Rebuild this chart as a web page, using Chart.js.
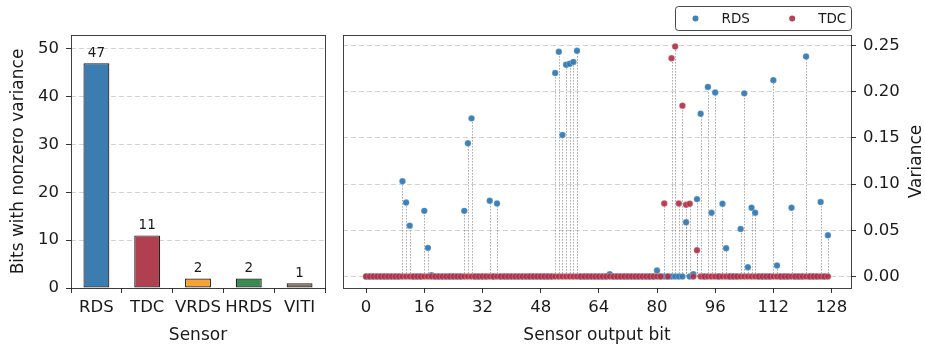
<!DOCTYPE html>
<html><head><meta charset="utf-8">
<script src="https://cdn.jsdelivr.net/npm/chart.js@4/dist/chart.umd.min.js"></script>
<style>
html,body{margin:0;padding:0;background:#fff;}
#wrap{position:relative;width:925px;height:346px;overflow:hidden;}
#c1{position:absolute;left:0;top:0;}
#c2{position:absolute;left:335px;top:0;}
</style></head><body>
<div id="wrap"><canvas id="c1" width="335" height="346"></canvas><canvas id="c2" width="590" height="346"></canvas></div>
<script>
// ---- data ----
const sensors = ['RDS', 'TDC', 'VRDS', 'HRDS', 'VITI'];
const nonzeroCounts = [47, 11, 2, 2, 1];
const sensorColors = ['#3b7db1', '#b0404f', '#f6a234', '#3b8a50', '#8a7263'];
const countTicks = [0, 10, 20, 30, 40, 50];

const nBits = 128;
const bitTicks = [0, 16, 32, 48, 64, 80, 96, 112, 128];
const varianceTicks = [0, 0.05, 0.10, 0.15, 0.20, 0.25];

const rdsBits = [10, 11, 12, 16, 17, 18, 27, 28, 29, 34, 36, 52, 53, 54, 55, 56, 57, 58, 67, 80,
                 88, 90, 91, 92, 94, 95, 96, 98, 99, 103, 104, 105, 106, 107, 112, 113, 117, 121, 125, 127];
const rdsVariance = [0.103, 0.080, 0.055, 0.071, 0.031, 0.0015, 0.071, 0.144, 0.171, 0.082, 0.079,
                     0.220, 0.243, 0.153, 0.229, 0.230, 0.232, 0.244, 0.0025, 0.0065,
                     0.0586, 0.0026, 0.0837, 0.176, 0.205, 0.069, 0.199, 0.0787, 0.0306,
                     0.0514, 0.198, 0.0101, 0.0744, 0.069, 0.2123, 0.0119, 0.0744, 0.2378, 0.0805, 0.0446];
const tdcBits = [82, 84, 85, 86, 87, 88, 89, 91];
const tdcVariance = [0.079, 0.236, 0.2486, 0.079, 0.1847, 0.0776, 0.0787, 0.0284];

const seriesLabels = ['RDS', 'TDC'];
const seriesColors = ['rgba(47,119,178,0.92)', 'rgba(176,46,66,0.9)'];

function fullSeries(bits, vals) {
  const out = [];
  for (let i = 0; i < nBits; i++) {
    const k = bits.indexOf(i);
    out.push({ x: i, y: k >= 0 ? vals[k] : 0 });
  }
  return out;
}

Chart.defaults.font.family = "'DejaVu Sans', sans-serif";
Chart.defaults.color = '#1a1a1a';

const tickFont = { size: 16.5 };
const titleFont = { size: 17 };
const gridColor = 'rgba(175,175,175,0.55)';
const tickMarkColor = '#333';

const framePlugin = {
  id: 'frame',
  afterDatasetsDraw(chart) {
    const { ctx, chartArea: a } = chart;
    ctx.save();
    ctx.strokeStyle = 'rgba(30,30,30,0.85)';
    ctx.lineWidth = 1;
    ctx.strokeRect(Math.round(a.left) + 0.5, Math.round(a.top) + 0.5,
                   Math.round(a.right - a.left), Math.round(a.bottom - a.top));
    ctx.restore();
  }
};

const barLabelPlugin = {
  id: 'barLabels',
  afterDatasetsDraw(chart) {
    const { ctx } = chart;
    const meta = chart.getDatasetMeta(0);
    const vals = chart.data.datasets[0].data;
    ctx.save();
    ctx.font = "13.5px 'DejaVu Sans', sans-serif";
    ctx.fillStyle = '#1a1a1a';
    ctx.textAlign = 'center';
    ctx.textBaseline = 'middle';
    meta.data.forEach((bar, i) => {
      ctx.fillText(String(vals[i]), bar.x, bar.y - 10);
    });
    ctx.restore();
  }
};

new Chart(document.getElementById('c1'), {
  type: 'bar',
  data: {
    labels: sensors,
    datasets: [{
      data: nonzeroCounts,
      backgroundColor: sensorColors,
      borderColor: 'rgba(20,20,20,0.95)',
      borderWidth: 1.2,
      borderSkipped: false,
      barPercentage: 0.51,
      categoryPercentage: 1
    }]
  },
  options: {
    responsive: false, animation: false, devicePixelRatio: 1,
    layout: { padding: { left: 0, top: 35, right: 10, bottom: 0 } },
    plugins: { legend: { display: false }, tooltip: { enabled: false } },
    scales: {
      x: {
        ticks: { font: tickFont, padding: 5, maxRotation: 0, autoSkip: false },
        grid: { drawOnChartArea: false, drawTicks: true, tickLength: 5, tickColor: tickMarkColor },
        border: { display: false },
        title: { display: true, text: 'Sensor', font: titleFont, padding: { top: 0, bottom: 0.5 } },
        afterFit: s => { s.height = 58; }
      },
      y: {
        min: 0, max: 52.9,
        afterBuildTicks: s => { s.ticks = countTicks.map(v => ({ value: v })); },
        ticks: { font: tickFont, padding: 7 },
        grid: { color: gridColor, tickColor: tickMarkColor, tickLength: 5, tickBorderDash: [] },
        border: { display: false, dash: [5, 3] },
        title: { display: true, text: 'Bits with nonzero variance', font: titleFont, padding: { top: 8, bottom: 0 } },
        afterFit: s => { s.width = 71; }
      }
    }
  },
  plugins: [framePlugin, barLabelPlugin]
});

const stemPlugin = {
  id: 'stems',
  beforeDatasetsDraw(chart) {
    const { ctx, scales: { x, y } } = chart;
    const y0 = y.getPixelForValue(0);
    ctx.save();
    ctx.strokeStyle = 'rgba(120,120,120,0.75)';
    ctx.lineWidth = 1;
    ctx.setLineDash([1.3, 1.7]);
    chart.data.datasets.forEach(ds => {
      ds.data.forEach(p => {
        if (p.y !== 0) {
          const px = Math.round(x.getPixelForValue(p.x)) + 0.5;
          ctx.beginPath();
          ctx.moveTo(px, y0);
          ctx.lineTo(px, y.getPixelForValue(p.y));
          ctx.stroke();
        }
      });
    });
    ctx.restore();
  }
};

const extrasPlugin = {
  id: 'extras',
  afterDraw(chart) {
    const { ctx, chartArea: a } = chart;
    ctx.save();
    // right-hand axis title (reads bottom to top)
    ctx.font = "17px 'DejaVu Sans', sans-serif";
    ctx.fillStyle = '#1a1a1a';
    ctx.textAlign = 'center';
    ctx.textBaseline = 'middle';
    ctx.translate(chart.width - 8, (a.top + a.bottom) / 2);
    ctx.rotate(-Math.PI / 2);
    ctx.fillText('Variance', 0, 0);
    ctx.restore();

    // legend box
    ctx.save();
    const right = Math.round(a.right) + 0.5, left = right - 176, top = 6.5, h = 24;
    const r = 3;
    ctx.beginPath();
    ctx.moveTo(left + r, top);
    ctx.lineTo(right - r, top); ctx.arcTo(right, top, right, top + r, r);
    ctx.lineTo(right, top + h - r); ctx.arcTo(right, top + h, right - r, top + h, r);
    ctx.lineTo(left + r, top + h); ctx.arcTo(left, top + h, left, top + h - r, r);
    ctx.lineTo(left, top + r); ctx.arcTo(left, top, left + r, top, r);
    ctx.closePath();
    ctx.fillStyle = 'rgba(255,255,255,0.9)';
    ctx.fill();
    ctx.strokeStyle = 'rgba(40,40,40,0.85)';
    ctx.lineWidth = 1;
    ctx.stroke();
    ctx.font = "13.5px 'DejaVu Sans', sans-serif";
    ctx.textBaseline = 'middle';
    ctx.textAlign = 'left';
    const cy = top + h / 2;
    chart.data.datasets.forEach((ds, i) => {
      const dx = left + 20 + i * 96.7;
      ctx.beginPath();
      ctx.arc(dx, cy, 3, 0, Math.PI * 2);
      ctx.fillStyle = ds.backgroundColor;
      ctx.fill();
      ctx.fillStyle = '#1a1a1a';
      ctx.fillText(ds.label, dx + 26, cy + 0.5);
    });
    ctx.restore();
  }
};

new Chart(document.getElementById('c2'), {
  type: 'scatter',
  data: {
    datasets: [
      { label: seriesLabels[0], data: fullSeries(rdsBits, rdsVariance), backgroundColor: seriesColors[0],
        borderColor: 'rgba(255,255,255,0.4)', borderWidth: 0.6, pointRadius: 3.2, order: 1 },
      { label: seriesLabels[1], data: fullSeries(tdcBits, tdcVariance), backgroundColor: seriesColors[1],
        borderColor: 'rgba(255,255,255,0.4)', borderWidth: 0.6, pointRadius: 3.2, order: 0 }
    ]
  },
  options: {
    responsive: false, animation: false, devicePixelRatio: 1,
    layout: { padding: { left: 8, top: 35, right: 0, bottom: 0 } },
    plugins: { legend: { display: false }, tooltip: { enabled: false } },
    scales: {
      x: {
        type: 'linear', min: -6.35, max: 133.35,
        afterBuildTicks: s => { s.ticks = bitTicks.map(v => ({ value: v })); },
        ticks: { font: tickFont, padding: 5, maxRotation: 0, autoSkip: false },
        grid: { drawOnChartArea: false, drawTicks: true, tickLength: 5, tickColor: tickMarkColor },
        border: { display: false },
        title: { display: true, text: 'Sensor output bit', font: titleFont, padding: { top: 0, bottom: 0.5 } },
        afterFit: s => { s.height = 58; }
      },
      y: {
        position: 'right', min: -0.0124, max: 0.2611,
        afterBuildTicks: s => { s.ticks = varianceTicks.map(v => ({ value: v })); },
        ticks: { font: tickFont, padding: 7, callback: v => Number(v).toFixed(2) },
        grid: { color: gridColor, tickColor: tickMarkColor, tickLength: 5, tickBorderDash: [] },
        border: { display: false, dash: [5, 3] },
        title: { display: false },
        afterFit: s => { s.width = 74; }
      }
    }
  },
  plugins: [stemPlugin, framePlugin, extrasPlugin]
});
</script>
</body></html>
